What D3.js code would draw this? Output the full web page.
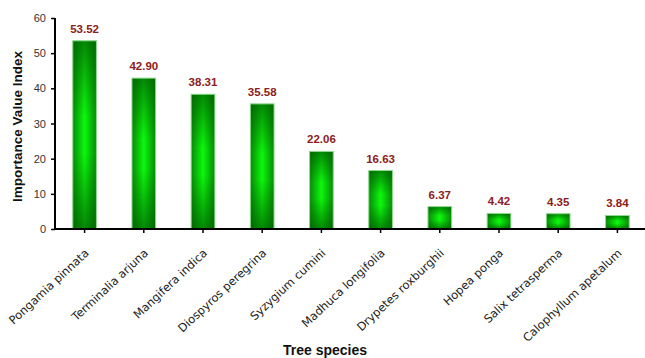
<!DOCTYPE html>
<html>
<head>
<meta charset="utf-8">
<script src="https://cdn.jsdelivr.net/npm/d3@7"></script>
<style>
  html, body { margin: 0; padding: 0; background: #fff; }
  svg { display: block; }
</style>
</head>
<body>
<svg id="chart" width="645" height="358"></svg>
<script>
// Importance Value Index of the dominant tree species
const species = [
  "Pongamia pinnata", "Terminalia arjuna", "Mangifera indica", "Diospyros peregrina",
  "Syzygium cumini", "Madhuca longifolia", "Drypetes roxburghii", "Hopea ponga",
  "Salix tetrasperma", "Calophyllum apetalum"
];
const ivi = [53.52, 42.90, 38.31, 35.58, 22.06, 16.63, 6.37, 4.42, 4.35, 3.84];
const yTicks = [0, 10, 20, 30, 40, 50, 60];

const svg = d3.select("#chart");
const W = 645, H = 358;
const mLeft = 55, mRight = 647, mTop = 18, mBottom = 229;

const x = d3.scaleBand().domain(species).range([mLeft, mRight])
  .paddingInner(0.6).paddingOuter(0.3);
const y = d3.scaleLinear().domain([0, 60]).range([mBottom, mTop]);

// Bar fill: darker edges fading to a bright green core, both across and along the bar
const defs = svg.append("defs");
const hg = defs.append("linearGradient").attr("id", "hGrad")
  .attr("x1", 0).attr("x2", 1).attr("y1", 0).attr("y2", 0);
hg.append("stop").attr("offset", "0%").attr("stop-color", "#078a07");
hg.append("stop").attr("offset", "50%").attr("stop-color", "#0cf80c");
hg.append("stop").attr("offset", "100%").attr("stop-color", "#078a07");
const vg = defs.append("linearGradient").attr("id", "vGrad")
  .attr("x1", 0).attr("x2", 0).attr("y1", 0).attr("y2", 1);
vg.append("stop").attr("offset", "0%").attr("stop-color", "#005a00").attr("stop-opacity", 0.7);
vg.append("stop").attr("offset", "40%").attr("stop-color", "#005a00").attr("stop-opacity", 0.0);
vg.append("stop").attr("offset", "60%").attr("stop-color", "#005a00").attr("stop-opacity", 0.0);
vg.append("stop").attr("offset", "100%").attr("stop-color", "#005a00").attr("stop-opacity", 0.7);

const bars = svg.append("g");
species.forEach((s, i) => {
  const bx = x(s), bw = x.bandwidth(), by = y(ivi[i]), bh = y(0) - y(ivi[i]);
  bars.append("rect").attr("x", bx).attr("y", by).attr("width", bw).attr("height", bh)
    .attr("fill", "url(#hGrad)");
  bars.append("rect").attr("x", bx).attr("y", by).attr("width", bw).attr("height", bh)
    .attr("fill", "url(#vGrad)")
    .attr("stroke", "#8fda8f").attr("stroke-width", 1);
});

// Value labels above bars
svg.append("g").selectAll("text").data(ivi).join("text")
  .attr("x", (d, i) => x(species[i]) + x.bandwidth() / 2)
  .attr("y", d => y(d) - 8)
  .attr("text-anchor", "middle")
  .attr("font-family", "Liberation Sans, Arial, sans-serif")
  .attr("font-weight", "bold")
  .attr("font-size", 11.5)
  .attr("fill", "#8b2020")
  .text(d => d.toFixed(2));

// Y axis
const yAxis = svg.append("g").attr("transform", `translate(${mLeft},0)`)
  .call(d3.axisLeft(y).tickValues(yTicks).tickSize(4).tickPadding(5).tickFormat(d3.format("d")));
yAxis.select(".domain").attr("stroke", "#000").attr("stroke-width", 2)
  .attr("d", `M0,${mTop}V${mBottom}`);
yAxis.selectAll(".tick line").attr("stroke", "#000").attr("stroke-width", 1.5);
yAxis.selectAll(".tick text").attr("font-family", "Liberation Sans, Arial, sans-serif")
  .attr("font-size", 11).attr("fill", "#333");

// X axis
const xAxis = svg.append("g").attr("transform", `translate(0,${mBottom})`)
  .call(d3.axisBottom(x).tickSize(4).tickFormat(""));
xAxis.select(".domain").attr("stroke", "#000").attr("stroke-width", 2)
  .attr("d", `M${mLeft},0H${W}`);
xAxis.selectAll(".tick line").attr("stroke", "#000").attr("stroke-width", 1.5);

// Rotated species names
svg.append("g").selectAll("text").data(species).join("text")
  .attr("transform", d => `translate(${x(d) + x.bandwidth() / 2 + 5},${mBottom + 25}) rotate(-43)`)
  .attr("text-anchor", "end")
  .attr("font-family", "DejaVu Sans, sans-serif")
  .attr("font-size", 11.5)
  .attr("fill", "#222")
  .text(d => d);

// Axis titles
svg.append("text")
  .attr("transform", `translate(22,${(mTop + mBottom) / 2 + 3}) rotate(-90)`)
  .attr("text-anchor", "middle")
  .attr("font-family", "Liberation Sans, Arial, sans-serif")
  .attr("font-weight", "bold").attr("font-size", 13.5).attr("fill", "#111")
  .text("Importance Value Index");

svg.append("text")
  .attr("x", 325).attr("y", 355)
  .attr("text-anchor", "middle")
  .attr("font-family", "Liberation Sans, Arial, sans-serif")
  .attr("font-weight", "bold").attr("font-size", 14).attr("fill", "#111")
  .text("Tree species");
</script>
</body>
</html>
